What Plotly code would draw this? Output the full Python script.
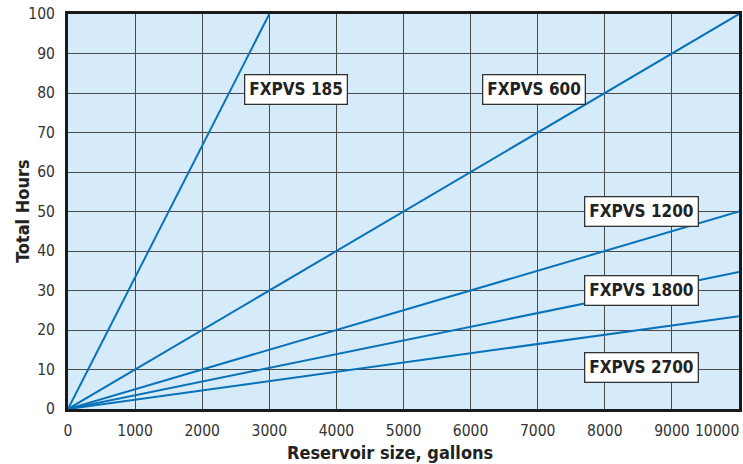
import plotly.graph_objects as go

# Data
models = ["FXPVS 185", "FXPVS 600", "FXPVS 1200", "FXPVS 1800", "FXPVS 2700"]
end_gallons = [3000, 10000, 10000, 10000, 10000]
end_hours = [100, 100, 50, 34.7, 23.5]
label_x = [3400, 6950, 8550, 8550, 8550]
label_y = [81, 81, 50, 30, 10.5]
x_ticks = [0, 1000, 2000, 3000, 4000, 5000, 6000, 7000, 8000, 9000]

LINE = "#0a72b8"
FONT = "DejaVu Sans Condensed, Liberation Sans Narrow, sans-serif"

fig = go.Figure()
for m, g, h in zip(models, end_gallons, end_hours):
    fig.add_trace(go.Scatter(x=[0, g], y=[0, h], mode="lines",
                             line=dict(color=LINE, width=2), name=m,
                             showlegend=False, hoverinfo="skip"))

for m, lx, ly in zip(models, label_x, label_y):
    fig.add_annotation(x=lx, y=ly, text="<b>" + m + "</b>", showarrow=False,
                       font=dict(family=FONT, size=17, color="#222"),
                       bgcolor="white", bordercolor="#333", borderwidth=1.3,
                       borderpad=4)

fig.add_annotation(x=10000, y=0, yshift=-22, xanchor="right", xshift=2,
                   text="10000", showarrow=False,
                   font=dict(family=FONT, size=15.5, color="#333"))

fig.add_annotation(xref="paper", yref="paper", x=0.48, y=-0.078, yanchor="top",
                   text="<b>Reservoir size, gallons</b>", showarrow=False,
                   font=dict(family=FONT, size=18, color="#222"))
fig.add_annotation(xref="paper", yref="paper", x=-0.068, y=0.5, xanchor="center",
                   text="<b>Total Hours</b>", showarrow=False, textangle=-90,
                   font=dict(family=FONT, size=18, color="#222"))

fig.update_layout(
    width=743, height=464,
    margin=dict(l=68, r=1, t=14, b=55),
    paper_bgcolor="white", plot_bgcolor="#d5ebf9",
    font=dict(family=FONT, size=15.5, color="#333"),
)
fig.update_xaxes(range=[0, 10000], tickvals=x_ticks, ticks="",
                 showgrid=True, gridcolor="#4a4a4a", gridwidth=1.3,
                 zeroline=False, showline=True, linecolor="#1a1a1a",
                 linewidth=3, mirror=True, ticklabelstandoff=5)
fig.update_yaxes(range=[0, 100], dtick=10, ticks="",
                 showgrid=True, gridcolor="#4a4a4a", gridwidth=1.3,
                 zeroline=False, showline=True, linecolor="#1a1a1a",
                 linewidth=3, mirror=True, ticklabelstandoff=7)

fig.write_html("out.html", config={"displayModeBar": False},
               post_script="document.body.style.margin='0px';document.body.style.overflow='hidden';")
